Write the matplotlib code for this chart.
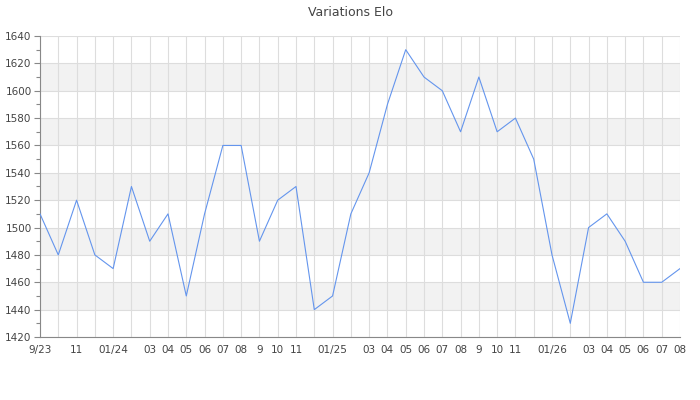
import matplotlib.pyplot as plt
from matplotlib.ticker import MultipleLocator

# monthly Elo, 2023-09 to 2026-08
months = ["2023-09", "2023-10", "2023-11", "2023-12", "2024-01", "2024-02",
          "2024-03", "2024-04", "2024-05", "2024-06", "2024-07", "2024-08",
          "2024-09", "2024-10", "2024-11", "2024-12", "2025-01", "2025-02",
          "2025-03", "2025-04", "2025-05", "2025-06", "2025-07", "2025-08",
          "2025-09", "2025-10", "2025-11", "2025-12", "2026-01", "2026-02",
          "2026-03", "2026-04", "2026-05", "2026-06", "2026-07", "2026-08"]
elo = [1510, 1480, 1520, 1480, 1470, 1530, 1490, 1510, 1450, 1510, 1560, 1560,
       1490, 1520, 1530, 1440, 1450, 1510, 1540, 1590, 1630, 1610, 1600, 1570,
       1610, 1570, 1580, 1550, 1480, 1430, 1500, 1510, 1490, 1460, 1460, 1470]
tick_labels = ["9/23", "", "11", "", "01/24", "", "03", "04", "05", "06", "07", "08",
               "9", "10", "11", "", "01/25", "", "03", "04", "05", "06", "07", "08",
               "9", "10", "11", "", "01/26", "", "03", "04", "05", "06", "07", "08"]

y_min, y_max = 1420, 1640

fig = plt.figure(figsize=(7, 4), dpi=100)
ax = fig.add_axes([40 / 700, 63 / 400, 640 / 700, 301 / 400])

x = list(range(len(months)))

# alternating bands
for lo in range(y_min, y_max, 20):
    if ((lo - y_min) // 20) % 2 == 1:
        ax.axhspan(lo, lo + 20, color="#f2f2f2", zorder=0, lw=0)

ax.plot(x, elo, color="#6495ed", lw=0.8, zorder=3)

ax.set_xlim(0, len(months) - 1)
ax.set_ylim(y_min, y_max)
ax.set_xticks(x)
ax.set_xticklabels(tick_labels)
ax.yaxis.set_major_locator(MultipleLocator(20))
ax.yaxis.set_minor_locator(MultipleLocator(10))

ax.grid(True, which="major", color="#dddddd", lw=0.8, zorder=1)
ax.set_axisbelow(True)

for side in ("top", "right"):
    ax.spines[side].set_visible(False)
for side in ("left", "bottom"):
    ax.spines[side].set_color("#888888")
    ax.spines[side].set_linewidth(0.8)

ax.tick_params(axis="x", length=0, pad=6, labelsize=7.5, colors="#444444")
ax.tick_params(axis="y", which="major", length=4, width=0.8, color="#888888",
               labelsize=7.5, labelcolor="#444444", pad=2)
ax.tick_params(axis="y", which="minor", length=3, width=0.8, color="#888888")

fig.text(0.5, 0.97, "Variations Elo", ha="center", va="center",
         fontsize=9, color="#444444")

fig.savefig("out.png", dpi=100)
